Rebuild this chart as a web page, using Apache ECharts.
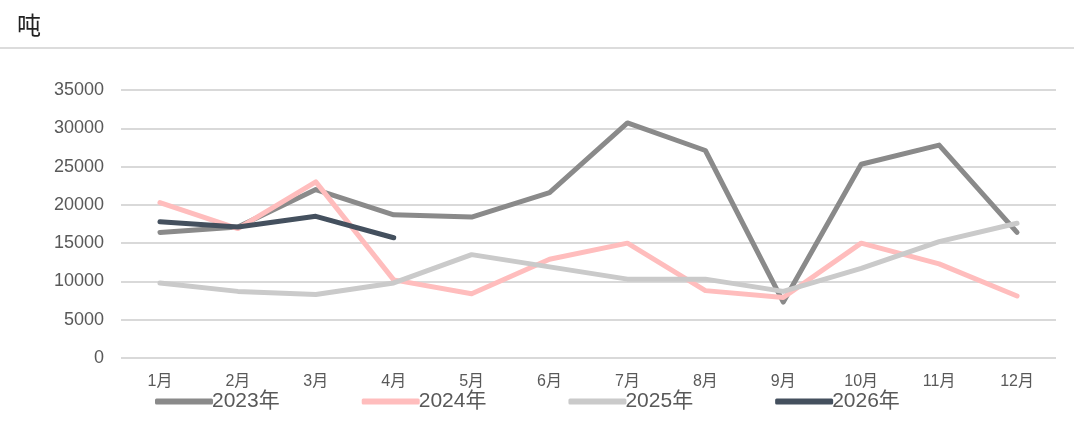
<!DOCTYPE html>
<html>
<head>
<meta charset="utf-8">
<script src="https://cdn.jsdelivr.net/npm/echarts@6/dist/echarts.min.js"></script>
<style>
html,body{margin:0;padding:0;background:#fff;}
#c{width:1074px;height:430px;}
</style>
</head>
<body>
<div id="c"></div>
<script>
const categories = ['1月','2月','3月','4月','5月','6月','7月','8月','9月','10月','11月','12月'];
const seriesNames = ['2023年','2024年','2025年','2026年'];
const y2023 = [16400, 17100, 22000, 18700, 18400, 21600, 30700, 27100, 7300, 25300, 27800, 16400];
const y2024 = [20300, 16900, 23000, 10200, 8400, 12900, 15000, 8800, 7900, 15000, 12300, 8100];
const y2025 = [9800, 8700, 8300, 9800, 13500, 11900, 10300, 10300, 8700, 11700, 15200, 17600];
const y2026 = [17800, 17100, 18500, 15700];
const yTicks = [0, 5000, 10000, 15000, 20000, 25000, 30000, 35000];
const unitLabel = '吨';

const colors = ['#8a8a8a', '#ffbdbd', '#cacaca', '#44505e'];
const FONT = '"Liberation Sans", "Noto Sans CJK SC", sans-serif';

const chart = echarts.init(document.getElementById('c'), null, {renderer: 'canvas'});
const dataList = [y2023, y2024, y2025, y2026];

chart.setOption({
  animation: false,
  color: colors,
  title: {
    text: unitLabel,
    left: 12,
    top: 8,
    textStyle: {fontFamily: '"Noto Sans CJK SC", serif', fontSize: 24, fontWeight: 'normal', color: '#222'}
  },
  graphic: [{
    type: 'line',
    shape: {x1: 0, y1: 48, x2: 1074, y2: 48},
    style: {stroke: '#dcdcdc', lineWidth: 2}
  }],
  legend: {
    data: seriesNames,
    left: 150,
    top: 386,
    itemWidth: 58,
    itemHeight: 6,
    itemGap: 82,
    icon: 'roundRect',
    textStyle: {fontFamily: FONT, fontSize: 21, color: '#595959', padding: [0, 0, 0, -6]}
  },
  grid: {left: 121, right: 18, top: 90, bottom: 72, containLabel: false},
  xAxis: {
    type: 'category',
    data: categories,
    boundaryGap: true,
    axisLine: {show: false},
    axisTick: {show: false},
    axisLabel: {fontFamily: FONT, fontSize: 16, color: '#595959', margin: 16}
  },
  yAxis: {
    type: 'value',
    min: yTicks[0],
    max: yTicks[yTicks.length - 1],
    interval: yTicks[1] - yTicks[0],
    axisLine: {show: false},
    axisTick: {show: false},
    axisLabel: {fontFamily: FONT, fontSize: 18, color: '#595959', margin: 17, formatter: v => String(v)},
    splitLine: {lineStyle: {color: '#d9d9d9', width: 2}}
  },
  series: seriesNames.map((n, i) => ({
    name: n,
    type: 'line',
    data: dataList[i],
    symbol: 'none',
    smooth: false,
    lineStyle: {width: 5, color: colors[i], cap: 'round', join: 'round'},
    itemStyle: {color: colors[i]},
    z: i === 3 ? 5 : 2
  }))
});
</script>
</body>
</html>
